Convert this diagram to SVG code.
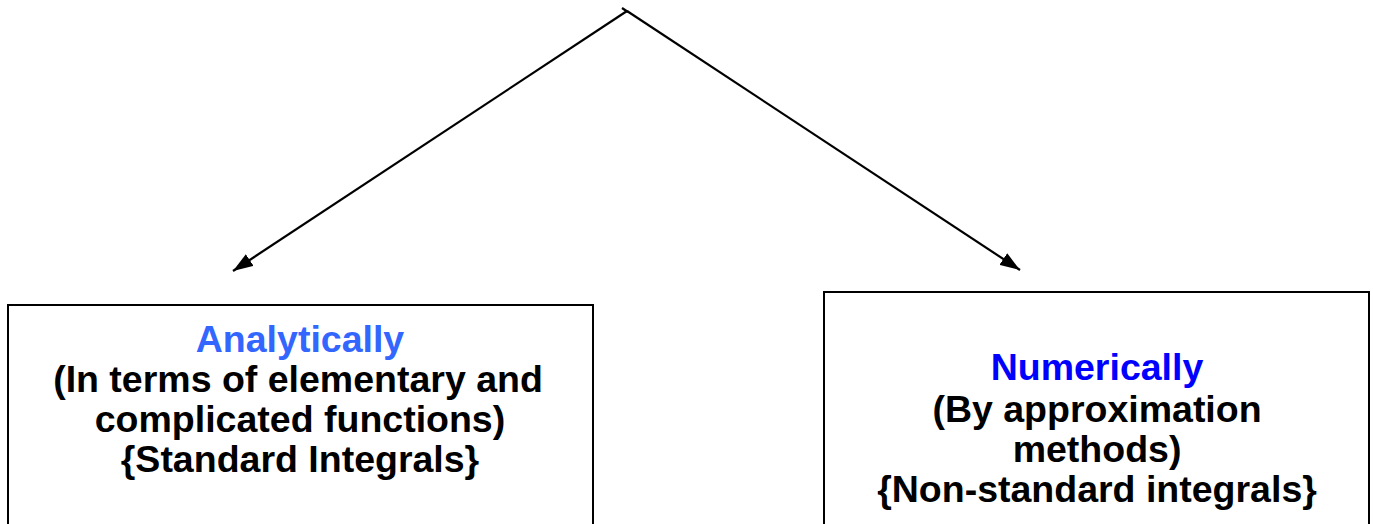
<svg xmlns="http://www.w3.org/2000/svg" width="1373" height="524" viewBox="0 0 1373 524">
<style>
.box{fill:#fff;stroke:#000;stroke-width:2}
.t{font-family:"Liberation Sans",Arial,sans-serif;font-weight:bold;font-size:37.5px;text-anchor:middle;fill:#000}
.conn{stroke:#000;stroke-width:2.2;fill:none}
</style>
<defs>
<marker id="ah" viewBox="0 0 20 14" refX="20" refY="7" markerWidth="20" markerHeight="14" markerUnits="userSpaceOnUse" orient="auto">
<path d="M0,0 L20,7 L0,14 z" fill="#000"/>
</marker>
</defs>
<rect width="1373" height="524" fill="#fff"/>
<g id="connectors">
<line class="conn" x1="622" y1="8" x2="628" y2="12"/>
<line class="conn" x1="627" y1="11" x2="233" y2="271" marker-end="url(#ah)"/>
<line class="conn" x1="627" y1="11" x2="1020" y2="270" marker-end="url(#ah)"/>
</g>
<g id="analytically">
<rect class="box" x="8" y="305" width="585" height="230"/>
<text class="t" x="300" y="352" style="fill:#3366FF">Analytically</text>
<text class="t" x="298" y="392">(In terms of elementary and</text>
<text class="t" x="300" y="432">complicated functions)</text>
<text class="t" x="300" y="472">{Standard Integrals}</text>
</g>
<g id="numerically">
<rect class="box" x="824" y="292" width="545" height="240"/>
<text class="t" x="1097" y="380" style="fill:#0000FF">Numerically</text>
<text class="t" x="1097" y="422">(By approximation</text>
<text class="t" x="1097" y="462">methods)</text>
<text class="t" x="1097" y="502">{Non-standard integrals}</text>
</g>
</svg>
